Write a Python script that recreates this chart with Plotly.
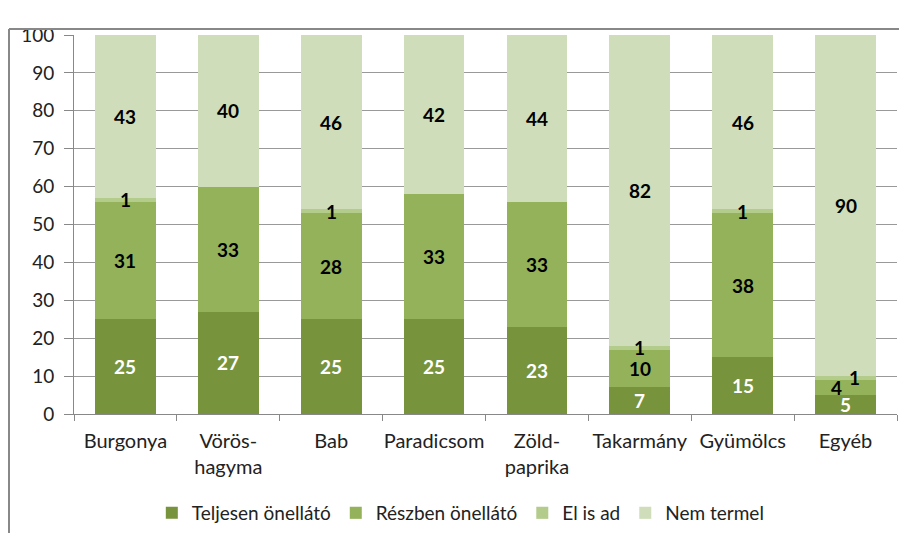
import plotly.graph_objects as go

categories = ["Burgonya", "Vörös-<br>hagyma", "Bab", "Paradicsom", "Zöld-<br>paprika",
              "Takarmány", "Gyümölcs", "Egyéb"]
teljesen = [25, 27, 25, 25, 23, 7, 15, 5]
reszben = [31, 33, 28, 33, 33, 10, 38, 4]
el_is_ad = [1, 0, 1, 0, 0, 1, 1, 1]
nem_termel = [43, 40, 46, 42, 44, 82, 46, 90]

series = [
    ("Teljesen önellátó", teljesen, "#77933C"),
    ("Részben önellátó", reszben, "#93B25A"),
    ("El is ad", el_is_ad, "#B3CB8B"),
    ("Nem termel", nem_termel, "#CFDDBA"),
]

font = "Lato, Open Sans, sans-serif"

fig = go.Figure()
for name, vals, color in series:
    fig.add_trace(go.Bar(x=categories, y=vals, name=name, marker_color=color,
                         marker_line_width=0))

# data labels, centred in each segment
annotations = []
for i, cat in enumerate(categories):
    base = 0
    for k, (name, vals, color) in enumerate(series):
        v = vals[i]
        if v > 0:
            dx, dy = 0, 0
            if cat == "Egyéb" and k == 1:
                dx = -9
            if cat == "Egyéb" and k == 2:
                dx, dy = 9, 1
            annotations.append(dict(
                x=cat, y=base + v / 2, text="<b>%d</b>" % v, showarrow=False,
                xshift=dx, yshift=dy,
                font=dict(family=font, size=19, color="white" if k == 0 else "black")))
        base += v

# the page body adds an 8px margin, so the figure is 8px smaller on each side
fig.update_layout(
    width=899, height=525,
    barmode="stack", bargap=0.41,
    plot_bgcolor="white", paper_bgcolor="white",
    margin=dict(l=66, r=10, t=27, b=119),
    font=dict(family=font, size=18, color="#222"),
    annotations=annotations,
    legend=dict(orientation="h", x=0.47, xanchor="center",
                yref="container", y=1 - 505 / 525, yanchor="middle",
                font=dict(size=19), traceorder="normal", itemwidth=30),
    xaxis=dict(showline=True, linecolor="#888", linewidth=1, ticks="outside",
               tickson="boundaries", ticklen=6, tickcolor="#888", tickangle=0,
               tickfont=dict(size=20), ticklabelstandoff=9, automargin=False),
    yaxis=dict(range=[0, 100], dtick=10, showgrid=True, gridcolor="#999", gridwidth=1,
               showline=True, linecolor="#888", ticks="outside", ticklen=9,
               tickcolor="#888", tickfont=dict(size=19), ticklabelstandoff=6,
               automargin=False),
    shapes=[
        dict(type="line", xref="paper", yref="paper", x0=(1 - 66) / 823, x1=1.02,
             y0=(387 - 2) / 379, y1=(387 - 2) / 379, line=dict(color="#888", width=2)),
        dict(type="line", xref="paper", yref="paper", x0=(1 - 66) / 823, x1=(1 - 66) / 823,
             y0=(387 - 2) / 379, y1=-0.33, line=dict(color="#888", width=2)),
    ],
)

fig.write_html("out.html")
